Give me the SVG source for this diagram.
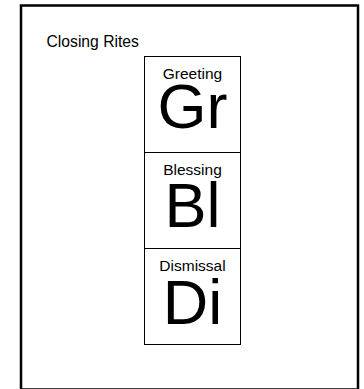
<svg xmlns="http://www.w3.org/2000/svg" width="364" height="389" viewBox="0 0 364 389">
<style>
.box{fill:#fff;stroke:#000;stroke-width:1}
.lbl{font-family:"Liberation Sans",Arial,sans-serif;font-size:15.5px;fill:#000;text-anchor:middle}
.big{font-family:"Liberation Sans",Arial,sans-serif;font-size:63px;fill:#000;text-anchor:middle}
.title{font-family:"Liberation Sans",Arial,sans-serif;font-size:15.7px;fill:#000}
</style>
<rect width="364" height="389" fill="#fff"/>
<g id="closing-rites">
<rect x="21" y="5.5" width="337" height="384" fill="#fff" stroke="#000" stroke-width="2.5"/>
<text class="title" x="46.5" y="47">Closing Rites</text>
</g>
<g id="greeting">
<rect class="box" x="144.5" y="56.5" width="96" height="96"/>
<text class="lbl" x="192.5" y="79">Greeting</text>
<text class="big" x="192.5" y="128">Gr</text>
</g>
<g id="blessing">
<rect class="box" x="144.5" y="152.5" width="96" height="96"/>
<text class="lbl" x="192.5" y="175">Blessing</text>
<text class="big" x="192.5" y="227">Bl</text>
</g>
<g id="dismissal">
<rect class="box" x="144.5" y="248.5" width="96" height="96"/>
<text class="lbl" x="192.5" y="271">Dismissal</text>
<text class="big" x="192.5" y="324">Di</text>
</g>
<g id="connectors"></g>
</svg>
